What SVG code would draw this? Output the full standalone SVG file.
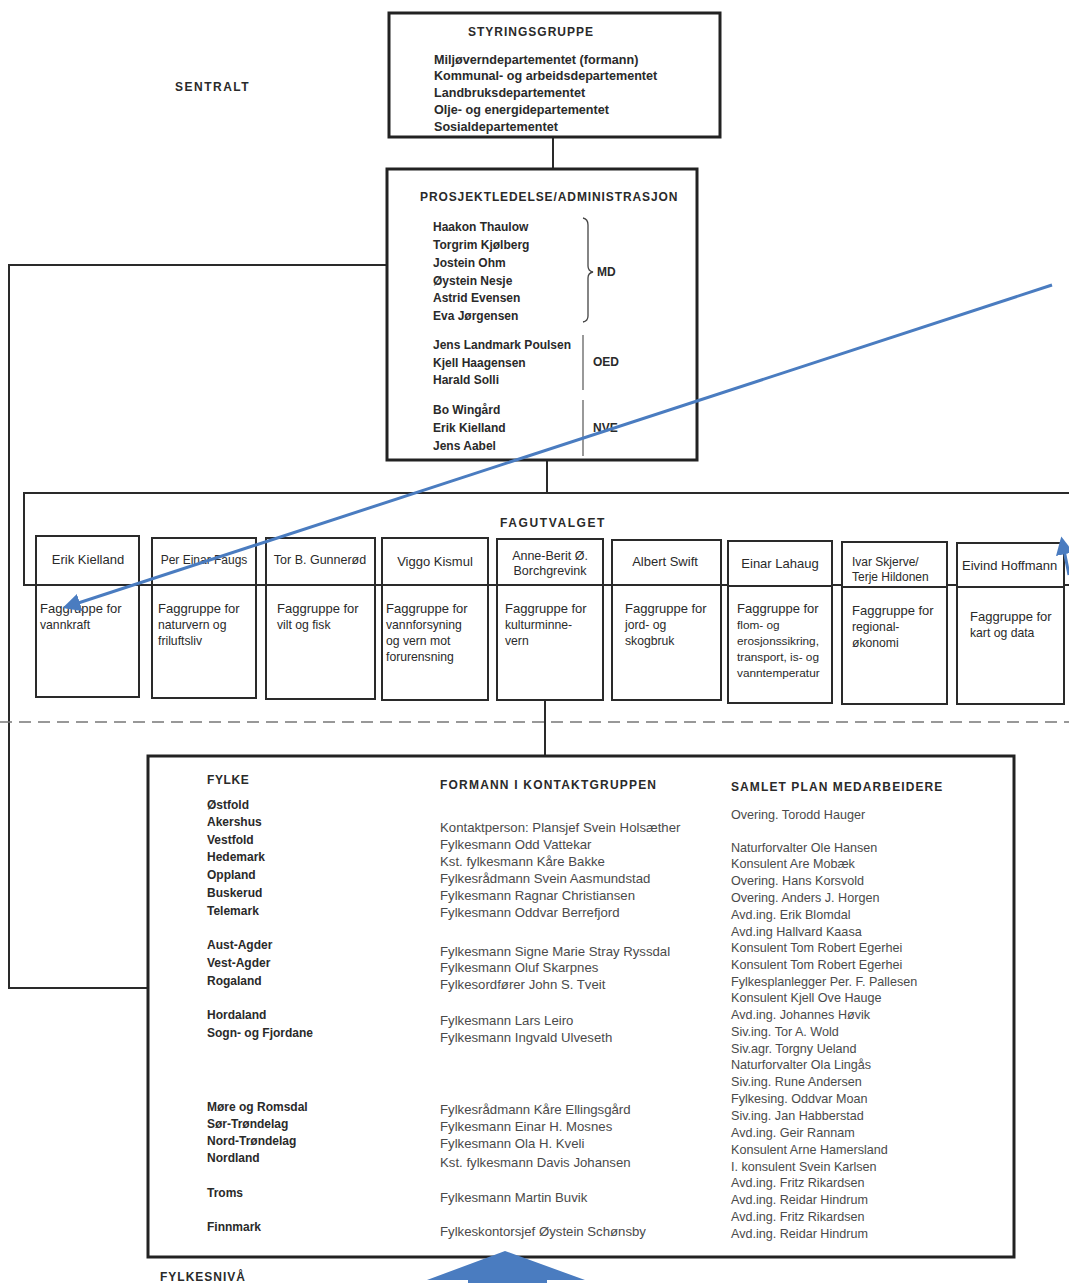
<svg xmlns="http://www.w3.org/2000/svg" width="1069" height="1283" viewBox="0 0 1069 1283">
<defs>
<style>
text{font-family:"Liberation Sans","Arial",sans-serif;fill:#2a2a2a}
.h{font-size:12px;font-weight:bold;letter-spacing:0.6px}
.b{font-size:12px;font-weight:bold}
.bt{font-size:12.6px;font-weight:bold}
.n{font-size:13px}
.d{font-size:12.2px}
.g{font-size:12.6px;fill:#4a4a4a}
.gm{font-size:13.2px;fill:#4a4a4a}
.box{fill:#fff;stroke:#222;stroke-width:3}
.sub{fill:#fff;stroke:#2a2a2a;stroke-width:2}
.ln{fill:none;stroke:#2a2a2a;stroke-width:2}
.blue{fill:none;stroke:#4a7cc0;stroke-width:3}
</style>
<marker id="ah" viewBox="0 0 10 10" refX="8" refY="5" markerWidth="6" markerHeight="6" orient="auto" markerUnits="strokeWidth">
<path d="M0,0 L10,5 L0,10 z" fill="#4a7cc0"/>
</marker>
</defs>
<rect width="1069" height="1283" fill="#fff"/>

<g id="labels">
<text class="h" x="175" y="91" style="letter-spacing:1.5px">SENTRALT</text>
<text class="h" x="160" y="1281" style="letter-spacing:1px">FYLKESNIVÅ</text>
</g>

<g id="connectors">
<line class="ln" x1="553" y1="137" x2="553" y2="169"/>
<line class="ln" x1="547" y1="460" x2="547" y2="493"/>
<line class="ln" x1="545" y1="698" x2="545" y2="756"/>
<polyline class="ln" points="387,265 9,265 9,988 148,988"/>
<line x1="0" y1="722" x2="1069" y2="722" stroke="#777" stroke-width="1.5" stroke-dasharray="12,7"/>
</g>

<g id="styringsgruppe">
<rect class="box" x="389" y="13" width="331" height="124"/>
<text class="h" x="468" y="36" style="letter-spacing:1px">STYRINGSGRUPPE</text>
<text class="bt" x="434" y="64">Miljøverndepartementet (formann)</text>
<text class="bt" x="434" y="80">Kommunal- og arbeidsdepartementet</text>
<text class="bt" x="434" y="97">Landbruksdepartementet</text>
<text class="bt" x="434" y="114">Olje- og energidepartementet</text>
<text class="bt" x="434" y="131">Sosialdepartementet</text>
</g>

<g id="prosjektledelse">
<rect class="box" x="387" y="169" width="310" height="291"/>
<text class="h" x="420" y="201" style="letter-spacing:0.9px">PROSJEKTLEDELSE/ADMINISTRASJON</text>
<text class="b" x="433" y="231">Haakon Thaulow</text>
<text class="b" x="433" y="249">Torgrim Kjølberg</text>
<text class="b" x="433" y="267">Jostein Ohm</text>
<text class="b" x="433" y="285">Øystein Nesje</text>
<text class="b" x="433" y="302">Astrid Evensen</text>
<text class="b" x="433" y="320">Eva Jørgensen</text>
<path d="M583,218 Q588,219 588,225 L588,266 Q588,271 593,272 Q588,273 588,278 L588,316 Q588,321 583,322" fill="none" stroke="#444" stroke-width="1.3"/>
<text class="b" x="597" y="276">MD</text>
<text class="b" x="433" y="349">Jens Landmark Poulsen</text>
<text class="b" x="433" y="367">Kjell Haagensen</text>
<text class="b" x="433" y="384">Harald Solli</text>
<line x1="583" y1="335" x2="583" y2="390" stroke="#555" stroke-width="1.2"/>
<text class="b" x="593" y="366">OED</text>
<text class="b" x="433" y="414">Bo Wingård</text>
<text class="b" x="433" y="432">Erik Kielland</text>
<text class="b" x="433" y="450">Jens Aabel</text>
<line x1="583" y1="400" x2="583" y2="456" stroke="#555" stroke-width="1.2"/>
<text class="b" x="593" y="432">NVE</text>
</g>

<g id="fagutvalget">
<path class="ln" d="M1069,493 L24,493 L24,585 L1069,585" stroke-width="2.5"/>
<text class="h" x="500" y="527" style="letter-spacing:1.6px">FAGUTVALGET</text>
</g>

<g id="fag1">
<rect class="sub" x="36" y="536" width="103" height="161"/>
<line class="ln" x1="36" y1="585" x2="139" y2="585"/>
<text class="n" x="88" y="564" text-anchor="middle">Erik Kielland</text>
<text class="n" x="40" y="613">Faggruppe for</text>
<text class="d" x="40" y="629">vannkraft</text>
</g>
<g id="fag2">
<rect class="sub" x="152" y="538" width="104" height="160"/>
<line class="ln" x1="152" y1="585" x2="256" y2="585"/>
<text class="n" x="204" y="564" text-anchor="middle" style="font-size:12px">Per Einar Faugs</text>
<text class="n" x="158" y="613">Faggruppe for</text>
<text class="d" x="158" y="629">naturvern og</text>
<text class="d" x="158" y="645">friluftsliv</text>
</g>
<g id="fag3">
<rect class="sub" x="266" y="538" width="109" height="161"/>
<line class="ln" x1="266" y1="585" x2="375" y2="585"/>
<text class="n" x="320" y="564" text-anchor="middle" style="font-size:12.5px">Tor B. Gunnerød</text>
<text class="n" x="277" y="613">Faggruppe for</text>
<text class="d" x="277" y="629">vilt og fisk</text>
</g>
<g id="fag4">
<rect class="sub" x="382" y="538" width="106" height="162"/>
<line class="ln" x1="382" y1="585" x2="488" y2="585"/>
<text class="n" x="435" y="566" text-anchor="middle">Viggo Kismul</text>
<text class="n" x="386" y="613">Faggruppe for</text>
<text class="d" x="386" y="629">vannforsyning</text>
<text class="d" x="386" y="645">og  vern mot</text>
<text class="d" x="386" y="661">forurensning</text>
</g>
<g id="fag5">
<rect class="sub" x="497" y="539" width="106" height="161"/>
<line class="ln" x1="497" y1="585" x2="603" y2="585"/>
<text class="n" x="550" y="560" text-anchor="middle" style="font-size:12.5px">Anne-Berit Ø.</text>
<text class="n" x="550" y="575" text-anchor="middle" style="font-size:12.5px">Borchgrevink</text>
<text class="n" x="505" y="613">Faggruppe for</text>
<text class="d" x="505" y="629">kulturminne-</text>
<text class="d" x="505" y="645">vern</text>
</g>
<g id="fag6">
<rect class="sub" x="612" y="540" width="109" height="160"/>
<line class="ln" x1="612" y1="585" x2="721" y2="585"/>
<text class="n" x="665" y="566" text-anchor="middle">Albert Swift</text>
<text class="n" x="625" y="613">Faggruppe for</text>
<text class="d" x="625" y="629">jord- og</text>
<text class="d" x="625" y="645">skogbruk</text>
</g>
<g id="fag7">
<rect class="sub" x="728" y="541" width="104" height="162"/>
<line class="ln" x1="728" y1="586" x2="832" y2="586"/>
<text class="n" x="780" y="568" text-anchor="middle">Einar Lahaug</text>
<text class="n" x="737" y="613">Faggruppe for</text>
<text class="d" x="737" y="629" style="font-size:11.8px">flom- og</text>
<text class="d" x="737" y="645" style="font-size:11.8px">erosjonssikring,</text>
<text class="d" x="737" y="661" style="font-size:11.8px">transport, is- og</text>
<text class="d" x="737" y="677" style="font-size:11.8px">vanntemperatur</text>
</g>
<g id="fag8">
<rect class="sub" x="842" y="542" width="105" height="162"/>
<line class="ln" x1="842" y1="587" x2="947" y2="587"/>
<text class="n" x="852" y="566" style="font-size:12px">Ivar Skjerve/</text>
<text class="n" x="852" y="581" style="font-size:12px">Terje Hildonen</text>
<text class="n" x="852" y="615">Faggruppe for</text>
<text class="d" x="852" y="631">regional-</text>
<text class="d" x="852" y="647">økonomi</text>
</g>
<g id="fag9">
<rect class="sub" x="957" y="543" width="107" height="161"/>
<line class="ln" x1="957" y1="587" x2="1064" y2="587"/>
<text class="n" x="962" y="570">Eivind Hoffmann</text>
<text class="n" x="970" y="621">Faggruppe for</text>
<text class="d" x="970" y="637">kart og data</text>
</g>

<g id="fylkesniva">
<rect class="box" x="148" y="756" width="866" height="501"/>
<text class="b" x="207" y="784" style="letter-spacing:0.6px">FYLKE</text>
<text class="b" x="207" y="809">Østfold</text>
<text class="b" x="207" y="826">Akershus</text>
<text class="b" x="207" y="844">Vestfold</text>
<text class="b" x="207" y="861">Hedemark</text>
<text class="b" x="207" y="879">Oppland</text>
<text class="b" x="207" y="897">Buskerud</text>
<text class="b" x="207" y="915">Telemark</text>
<text class="b" x="207" y="949">Aust-Agder</text>
<text class="b" x="207" y="967">Vest-Agder</text>
<text class="b" x="207" y="985">Rogaland</text>
<text class="b" x="207" y="1019">Hordaland</text>
<text class="b" x="207" y="1037">Sogn- og Fjordane</text>
<text class="b" x="207" y="1111">Møre og Romsdal</text>
<text class="b" x="207" y="1128">Sør-Trøndelag</text>
<text class="b" x="207" y="1145">Nord-Trøndelag</text>
<text class="b" x="207" y="1162">Nordland</text>
<text class="b" x="207" y="1197">Troms</text>
<text class="b" x="207" y="1231">Finnmark</text>

<text class="h" x="440" y="789" style="letter-spacing:1.2px">FORMANN I KONTAKTGRUPPEN</text>
<text class="gm" x="440" y="832">Kontaktperson: Plansjef Svein Holsæther</text>
<text class="gm" x="440" y="849">Fylkesmann Odd Vattekar</text>
<text class="gm" x="440" y="866">Kst. fylkesmann Kåre Bakke</text>
<text class="gm" x="440" y="883">Fylkesrådmann Svein Aasmundstad</text>
<text class="gm" x="440" y="900">Fylkesmann  Ragnar  Christiansen</text>
<text class="gm" x="440" y="917">Fylkesmann Oddvar Berrefjord</text>
<text class="gm" x="440" y="956">Fylkesmann Signe Marie Stray Ryssdal</text>
<text class="gm" x="440" y="972">Fylkesmann Oluf Skarpnes</text>
<text class="gm" x="440" y="989">Fylkesordfører John S. Tveit</text>
<text class="gm" x="440" y="1025">Fylkesmann Lars Leiro</text>
<text class="gm" x="440" y="1042">Fylkesmann Ingvald Ulveseth</text>
<text class="gm" x="440" y="1114">Fylkesrådmann Kåre Ellingsgård</text>
<text class="gm" x="440" y="1131">Fylkesmann Einar H. Mosnes</text>
<text class="gm" x="440" y="1148">Fylkesmann Ola H. Kveli</text>
<text class="gm" x="440" y="1167">Kst. fylkesmann Davis Johansen</text>
<text class="gm" x="440" y="1202">Fylkesmann Martin Buvik</text>
<text class="gm" x="440" y="1236">Fylkeskontorsjef Øystein Schønsby</text>

<text class="h" x="731" y="791" style="letter-spacing:1.1px">SAMLET PLAN MEDARBEIDERE</text>
<text class="g" x="731" y="819">Overing. Torodd Hauger</text>
<text class="g" x="731" y="852">Naturforvalter Ole Hansen</text>
<text class="g" x="731" y="868">Konsulent Are Mobæk</text>
<text class="g" x="731" y="885">Overing. Hans Korsvold</text>
<text class="g" x="731" y="902">Overing. Anders J. Horgen</text>
<text class="g" x="731" y="919">Avd.ing. Erik Blomdal</text>
<text class="g" x="731" y="936">Avd.ing Hallvard Kaasa</text>
<text class="g" x="731" y="952">Konsulent  Tom Robert Egerhei</text>
<text class="g" x="731" y="969">Konsulent  Tom Robert Egerhei</text>
<text class="g" x="731" y="986">Fylkesplanlegger Per. F. Pallesen</text>
<text class="g" x="731" y="1002">Konsulent Kjell Ove Hauge</text>
<text class="g" x="731" y="1019">Avd.ing. Johannes Høvik</text>
<text class="g" x="731" y="1036">Siv.ing. Tor A. Wold</text>
<text class="g" x="731" y="1053">Siv.agr. Torgny Ueland</text>
<text class="g" x="731" y="1069">Naturforvalter Ola Lingås</text>
<text class="g" x="731" y="1086">Siv.ing. Rune Andersen</text>
<text class="g" x="731" y="1103">Fylkesing. Oddvar Moan</text>
<text class="g" x="731" y="1120">Siv.ing. Jan Habberstad</text>
<text class="g" x="731" y="1137">Avd.ing. Geir Rannam</text>
<text class="g" x="731" y="1154">Konsulent Arne Hamersland</text>
<text class="g" x="731" y="1171">I. konsulent Svein Karlsen</text>
<text class="g" x="731" y="1187">Avd.ing. Fritz Rikardsen</text>
<text class="g" x="731" y="1204">Avd.ing. Reidar Hindrum</text>
<text class="g" x="731" y="1221">Avd.ing. Fritz Rikardsen</text>
<text class="g" x="731" y="1238">Avd.ing. Reidar Hindrum</text>
</g>

<g id="overlay-arrows">
<line class="blue" x1="1052" y1="285" x2="66" y2="607" marker-end="url(#ah)"/>
<line class="blue" x1="1069" y1="575" x2="1062" y2="540" marker-end="url(#ah)"/>
<path d="M505,1251 L585,1280 L547,1280 L547,1283 L468,1283 L468,1280 L427,1280 Z" fill="#4a7cc0"/>
</g>
</svg>
